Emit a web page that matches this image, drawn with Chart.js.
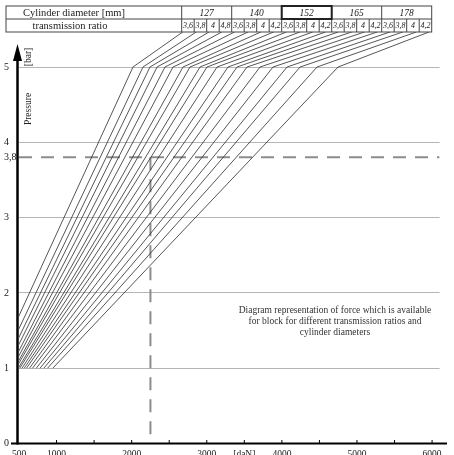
<!DOCTYPE html>
<html>
<head>
<meta charset="utf-8">
<script src="https://cdn.jsdelivr.net/npm/chart.js@4.4.1/dist/chart.umd.min.js"></script>
<style>
  body { margin: 0; background: #fff; }
  #wrap { width: 454px; height: 455px; position: relative; }
</style>
</head>
<body>
<div id="wrap"><canvas id="myChart"></canvas></div>
<script>
const cylinders = [127, 140, 152, 165, 178];
const ratios = [
    ['3,6', '3,8', '4', '4,8'],
    ['3,6', '3,8', '4', '4,2'],
    ['3,6', '3,8', '4', '4,2'],
    ['3,6', '3,8', '4', '4,2'],
    ['3,6', '3,8', '4', '4,2']
];
// force [daN] of every line at 1 bar, at 5 bar, and where it meets the table
const force1 = [180, 250, 300, 340, 380, 410, 440, 460, 490, 510, 540, 570, 600, 640, 680, 730, 780, 830, 880, 950];
const force5 = [2018, 2151, 2244, 2338, 2444, 2551, 2684, 2777, 2910, 3003, 3137, 3283, 3403, 3536, 3709, 3882, 4069, 4242, 4468, 4748];
const forceTop = [2680, 2860, 3030, 3200, 3370, 3550, 3720, 3890, 4060, 4240, 4410, 4580, 4750, 4930, 5100, 5270, 5440, 5610, 5790, 5960];
const pressureTop = 5.465;

const xTicks = [500, 1000, 1500, 2000, 2500, 3000, 3500, 4000, 4500, 5000, 5500, 6000];
const xTickLabels = ['500', '1000', '', '2000', '', '3000', '[daN]', '4000', '', '5000', '', '6000'];
const yTicks = [0, 1, 2, 3, 3.8, 4, 5];
const yTickLabels = ['0', '1', '2', '3', '3,8', '4', '5'];
const gridValues = [1, 2, 3, 4, 5];

const markForce = 2250;
const markPressure = 3.8;

const note = [
    'Diagram representation of force which is available',
    'for block for different transmission ratios and',
    'cylinder diameters'
];

const serif = '"Liberation Serif", "DejaVu Serif", serif';

var datasets = force1.map(function (f, i) {
    return {
        data: [{ x: f, y: 1 }, { x: force5[i], y: 5 }, { x: forceTop[i], y: pressureTop }],
        borderColor: '#2b2b2b',
        borderWidth: 0.8,
        pointRadius: 0,
        showLine: true
    };
});
datasets.push({
    data: [{ x: 500, y: markPressure }, { x: 6100, y: markPressure }],
    borderColor: '#8c8c8c', borderWidth: 2, borderDash: [13, 9], pointRadius: 0, showLine: true
});
datasets.push({
    data: [{ x: markForce, y: markPressure }, { x: markForce, y: 0 }],
    borderColor: '#8c8c8c', borderWidth: 2, borderDash: [13, 9], pointRadius: 0, showLine: true
});

const decor = {
    id: 'decor',
    afterDatasetsDraw(chart) {
        const ctx = chart.ctx;
        const a = chart.chartArea;
        const x = chart.scales.x;
        ctx.save();

        // axes
        ctx.strokeStyle = '#000';
        ctx.lineWidth = 2;
        ctx.beginPath(); ctx.moveTo(11, a.bottom); ctx.lineTo(447, a.bottom); ctx.stroke();
        const ax = a.left - 1.5;
        ctx.lineWidth = 2.5;
        ctx.beginPath(); ctx.moveTo(ax, a.bottom + 1); ctx.lineTo(ax, 58); ctx.stroke();
        ctx.fillStyle = '#000';
        ctx.beginPath(); ctx.moveTo(ax, 44); ctx.lineTo(ax - 4.5, 61); ctx.lineTo(ax + 4.5, 61); ctx.closePath(); ctx.fill();
        ctx.lineWidth = 1;
        xTicks.forEach(function (v) {
            if (v === 500) return;
            const px = x.getPixelForValue(v);
            ctx.beginPath(); ctx.moveTo(px, a.bottom); ctx.lineTo(px, a.bottom - 3.5); ctx.stroke();
        });

        // axis titles
        ctx.fillStyle = '#222';
        ctx.font = '9.5px ' + serif;
        ctx.textAlign = 'center';
        ctx.textBaseline = 'middle';
        [['Pressure', 109], ['[bar]', 57]].forEach(function (t) {
            ctx.save();
            ctx.translate(28, t[1]);
            ctx.rotate(-Math.PI / 2);
            ctx.fillText(t[0], 0, 0);
            ctx.restore();
        });

        // note
        ctx.fillStyle = '#333';
        ctx.font = '9.5px ' + serif;
        note.forEach(function (line, i) {
            ctx.fillText(line, 335, 310 + i * 11);
        });

        // table
        const left = 6, top = 6, rowH = 13, firstW = 175.7, cellW = 50, subW = 12.5;
        const right = left + firstW + cellW * cylinders.length;
        ctx.fillStyle = '#fff';
        ctx.fillRect(left, top, right - left, rowH * 2);
        ctx.strokeStyle = '#444';
        ctx.lineWidth = 1;
        ctx.strokeRect(left, top, right - left, rowH * 2);
        ctx.beginPath(); ctx.moveTo(left, top + rowH); ctx.lineTo(right, top + rowH); ctx.stroke();
        ctx.fillStyle = '#222';
        ctx.font = '10.5px ' + serif;
        ctx.fillText('Cylinder diameter [mm]', 74, top + rowH / 2 + 0.5);
        ctx.fillText('transmission ratio', 70, top + rowH * 1.5 + 0.5);
        cylinders.forEach(function (c, i) {
            const cx = left + firstW + i * cellW;
            ctx.beginPath(); ctx.moveTo(cx, top); ctx.lineTo(cx, top + rowH * 2); ctx.stroke();
            ctx.font = 'italic 9.5px ' + serif;
            ctx.fillText(String(c), cx + cellW / 2, top + rowH / 2 + 0.5);
            ratios[i].forEach(function (r, j) {
                const sx = cx + j * subW;
                if (j > 0) {
                    ctx.beginPath(); ctx.moveTo(sx, top + rowH); ctx.lineTo(sx, top + rowH * 2); ctx.stroke();
                }
                ctx.font = 'italic 8px ' + serif;
                ctx.fillText(r, sx + subW / 2, top + rowH * 1.5 + 0.5);
            });
        });
        ctx.lineWidth = 2;
        ctx.strokeStyle = '#222';
        ctx.strokeRect(left + firstW + 2 * cellW, top, cellW, rowH);
        ctx.restore();
    }
};

const config = {
    type: 'scatter',
    data: { datasets: datasets },
    options: {
        responsive: true,
        maintainAspectRatio: false,
        animation: false,
        layout: { padding: { left: 4, right: 14.4, top: 3, bottom: 0 } },
        plugins: { legend: { display: false }, tooltip: { enabled: false } },
        scales: {
            x: {
                type: 'linear',
                min: 500,
                max: 6100,
                afterBuildTicks: function (s) { s.ticks = xTicks.map(function (v) { return { value: v }; }); },
                afterFit: function (s) { s.height = 11.5; s.paddingLeft = 0; s.paddingRight = 0; },
                grid: { display: false },
                border: { display: false },
                ticks: {
                    autoSkip: false, maxRotation: 0, padding: -3, color: '#222',
                    font: { family: serif, size: 9.5 },
                    callback: function (v) { return xTickLabels[xTicks.indexOf(v)]; }
                }
            },
            y: {
                min: 0,
                max: 5.85,
                afterBuildTicks: function (s) { s.ticks = yTicks.map(function (v) { return { value: v }; }); },
                afterFit: function (s) { s.width = 15; s.paddingTop = 0; s.paddingBottom = 0; },
                grid: {
                    drawTicks: false,
                    lineWidth: 1,
                    color: function (c) { return gridValues.includes(c.tick && c.tick.value) ? '#b5b5b5' : 'rgba(0,0,0,0)'; }
                },
                border: { display: false },
                ticks: {
                    crossAlign: 'far', padding: 0, color: '#222',
                    font: { family: serif, size: 10 },
                    callback: function (v) { return yTickLabels[yTicks.indexOf(v)]; }
                }
            }
        }
    },
    plugins: [decor]
};

const ctx = document.getElementById('myChart').getContext('2d');
new Chart(ctx, config);
</script>
</body>
</html>
